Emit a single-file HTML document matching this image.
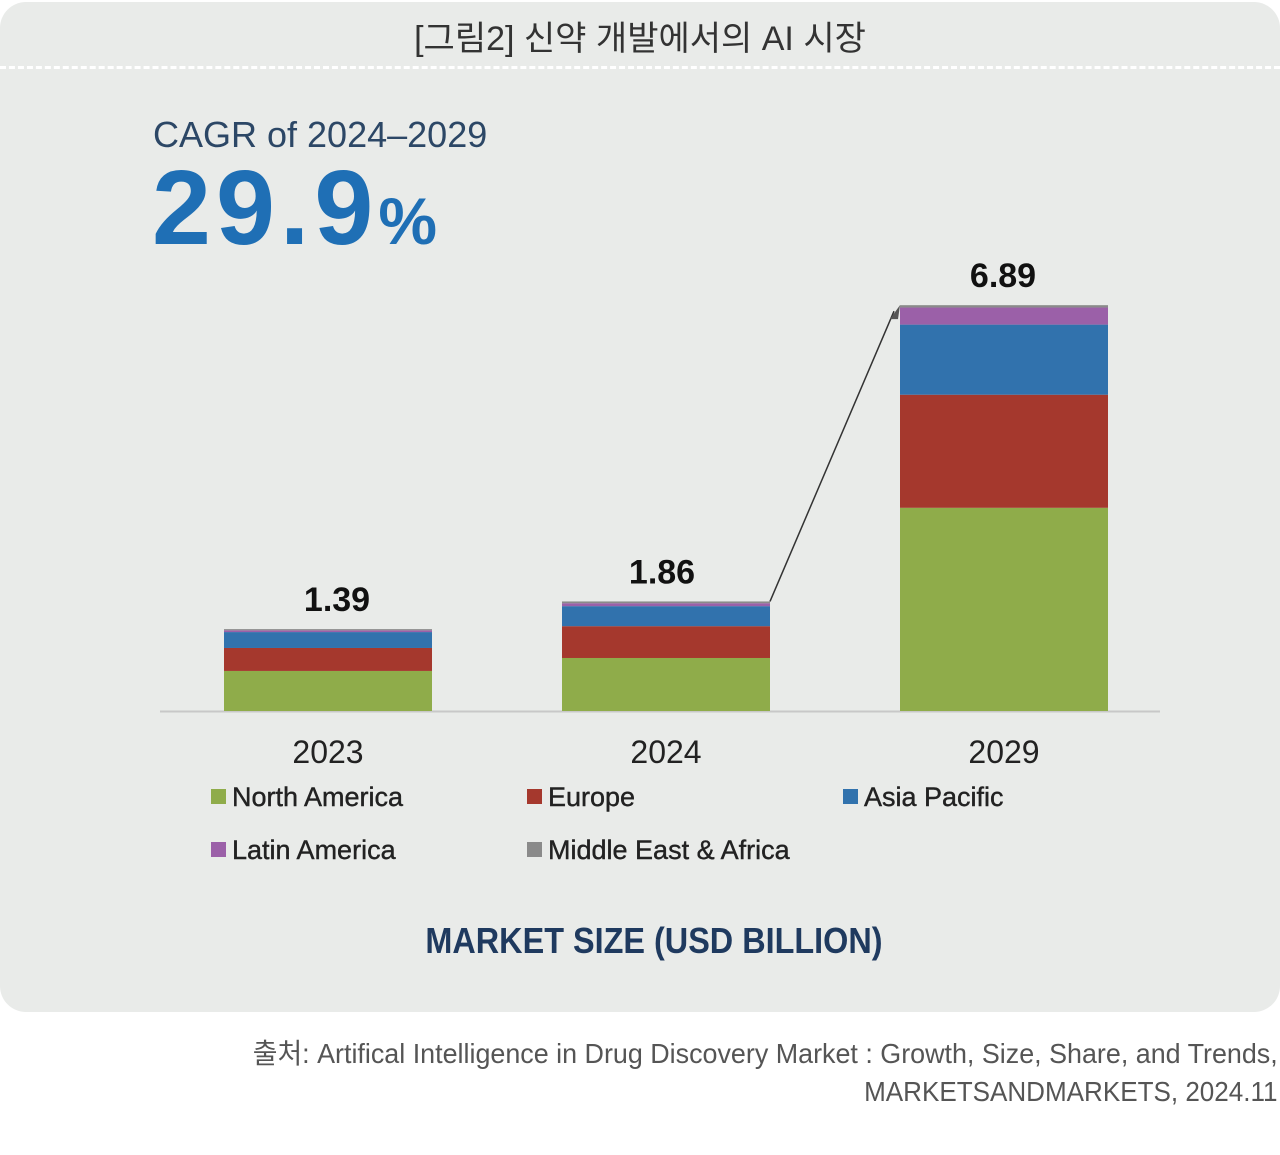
<!DOCTYPE html>
<html><head><meta charset="utf-8"><style>
body{margin:0;width:1280px;height:1155px;background:#fff;position:relative;overflow:hidden;font-family:"Liberation Sans","Noto Sans CJK KR",sans-serif}
.panel{position:absolute;left:0;top:2px;width:1280px;height:1010px;background:#e9ebe9;border-radius:26px}
.t{position:absolute;white-space:nowrap}
</style></head><body>
<div class="panel"></div>
<div class="t" style="left:0;width:1280px;text-align:center;top:11px;font-size:34px;color:#333">[그림2] 신약 개발에서의 AI 시장</div>
<div style="position:absolute;left:0;top:66px;width:1280px;border-top:3px dashed #fff"></div>
<div class="t" style="left:153px;top:114px;font-size:36px;color:#2c4766">CAGR of 2024–2029</div>
<div class="t" style="left:152px;top:148px;font-size:106px;font-weight:bold;color:#1f6fb5;letter-spacing:5px">29.9<span style="font-size:66px;letter-spacing:0">%</span></div>
<svg id="chart" width="1280" height="1155" style="position:absolute;left:0;top:0"></svg>
<div class="t" style="left:0;width:1308px;text-align:center;top:920px;font-size:36px;font-weight:bold;color:#1f3a5f;transform:scaleX(0.9)">MARKET SIZE (USD BILLION)</div>
<div class="t" style="right:2px;top:1032px;font-size:28px;color:#555;transform:scaleX(0.96);transform-origin:right">출처: Artifical Intelligence in Drug Discovery Market : Growth, Size, Share, and Trends,</div>
<div class="t" style="right:2px;top:1076px;font-size:28px;color:#555;transform:scaleX(0.93);transform-origin:right">MARKETSANDMARKETS, 2024.11</div>
<script>
const years=["2023","2024","2029"];
const totals=["1.39","1.86","6.89"];
const seriesNames=["North America","Europe","Asia Pacific","Latin America","Middle East & Africa"];
const northAmerica=[0.68,0.90,3.45];
const europe=[0.39,0.54,1.92];
const asiaPacific=[0.27,0.34,1.19];
const latinAmerica=[0.03,0.05,0.29];
const middleEastAfrica=[0.02,0.03,0.04];
const colors=["#8fac4a","#a5382d","#3172ad","#9b60a8","#8a8a8a"];
const svg=document.getElementById('chart');
const NS="http://www.w3.org/2000/svg";
const base=711,scale=58.9,x0=328,step=338,bw=208;
const y=v=>base-v*scale;
const xc=i=>x0+i*step;
const labelDx=[9,-4,-1];
function mk(t,a){const e=document.createElementNS(NS,t);for(const k in a)e.setAttribute(k,a[k]);svg.appendChild(e);return e;}
const ax=mk('line',{x1:160,x2:1160,y1:base+0.5,y2:base+0.5,stroke:'#c8c8c8','stroke-width':2});


const series=[northAmerica,europe,asiaPacific,latinAmerica,middleEastAfrica];
const tops=[];
years.forEach((yr,i)=>{
  let cum=0;
  series.forEach((s,j)=>{
    const r=mk('rect',{x:xc(i)-bw/2,y:y(cum+s[i]),width:bw,height:s[i]*scale,fill:colors[j]});
    
    
    cum+=s[i];
  });
  tops.push(cum);
  const tl=mk('text',{x:xc(i)+labelDx[i],y:y(cum)-18,'text-anchor':'middle','font-size':34,'font-weight':'bold',fill:'#111','font-family':'Liberation Sans'});
  tl.textContent=totals[i];
  
  
  const xl=mk('text',{x:xc(i),y:763,'text-anchor':'middle','font-size':32,fill:'#222','font-family':'Liberation Sans'});
  xl.textContent=yr;
  
  
});
const ar=mk('line',{x1:xc(1)+bw/2,y1:y(tops[1]),x2:xc(2)-bw/2-6,y2:y(tops[2])+6,stroke:'#333','stroke-width':1.5});


const ah=mk('polygon',{points:`${xc(2)-bw/2-10},${y(tops[2])+14} ${xc(2)-bw/2},${y(tops[2])} ${xc(2)-bw/2-2},${y(tops[2])+14}`,fill:'#555'});


const lx=[211,527,843,211,527],ly=[797,797,797,850,850];
seriesNames.forEach((n,j)=>{
  const s=mk('rect',{x:lx[j],y:ly[j]-8,width:15,height:15,fill:colors[j]});
  
  
  const t=mk('text',{x:lx[j]+21,y:ly[j]+9,'font-size':27,fill:'#222','font-family':'Liberation Sans','stroke':'#222','stroke-width':0.4});
  t.textContent=n;
  
  
});
</script>
</body></html>
